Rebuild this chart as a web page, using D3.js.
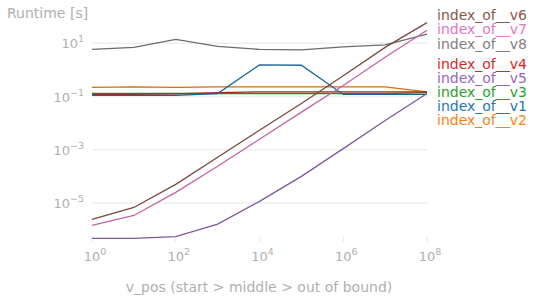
<!DOCTYPE html>
<html><head><meta charset="utf-8">
<script src="https://cdn.jsdelivr.net/npm/d3@7"></script>
<style>body{margin:0;background:#fff}svg{display:block}text{font-family:"DejaVu Sans",sans-serif}</style>
</head><body><svg id="c" width="534" height="304"></svg>
<script>
const xValues = [1e0,1e1,1e2,1e3,1e4,1e5,1e6,1e7,1e8];
const seriesNames = ["index_of__v1","index_of__v2","index_of__v3","index_of__v4","index_of__v5","index_of__v6","index_of__v7","index_of__v8"];
const v1 = [0.11,0.11,0.11,0.13,1.55,1.5,0.12,0.12,0.12];
const v2 = [0.22,0.23,0.22,0.23,0.23,0.23,0.23,0.23,0.15];
const v3 = [0.13,0.13,0.13,0.13,0.13,0.13,0.13,0.13,0.14];
const v4 = [0.12,0.12,0.125,0.14,0.15,0.15,0.15,0.15,0.15];
const v5 = [4.7e-7,4.7e-7,5.5e-7,1.6e-6,1.15e-5,1.0e-4,1.1e-3,1.26e-2,0.13];
const v6 = [2.4e-6,6.8e-6,5.0e-5,5.2e-4,5.4e-3,5.5e-2,0.6,7,60];
const v7 = [1.45e-6,3.4e-6,2.5e-5,2.4e-4,2.5e-3,2.6e-2,0.26,3,31];
const v8 = [5.9,7,14,7.7,5.9,5.7,7.4,8.8,22];
const colors = ["#1f77b4","#ff7f0e","#2ca02c","#d62728","#9467bd","#8c564b","#e377c2","#7f7f7f"];
const legendOrder = ["index_of__v6","index_of__v7","index_of__v8","index_of__v4","index_of__v5","index_of__v3","index_of__v1","index_of__v2"];
const xTicks = [1e0,1e2,1e4,1e6,1e8];
const yTicks = [1e1,1e-1,1e-3,1e-5];
const xTitle = "v_pos (start > middle > out of bound)";
const yTitle = "Runtime [s]";

const allValues = [v1,v2,v3,v4,v5,v6,v7,v8];
const svg = d3.select("#c");
const x = d3.scaleLog().domain([1,1e8]).range([92,427]);
const y = d3.scaleLog().domain([1e-5,1e1]).range([203,43.3]);
const txt = "#b0b0b0";

// gridlines
svg.append("g").selectAll("line").data(yTicks).join("line")
  .attr("x1",x(1)).attr("x2",x(1e8)).attr("y1",d=>y(d)).attr("y2",d=>y(d))
  .attr("stroke","#efefef").attr("stroke-width",1.5);
// x tick marks
svg.append("g").selectAll("line").data(xTicks).join("line")
  .attr("x1",d=>x(d)).attr("x2",d=>x(d)).attr("y1",237).attr("y2",242)
  .attr("stroke","#e6e6e6").attr("stroke-width",1);

function expLabel(sel, d){
  const e = Math.round(Math.log10(d));
  sel.append("tspan").text("10");
  sel.append("tspan").attr("dy",-6).attr("font-size",9.5).text(e<0?"\u2212"+(-e):String(e));
}
svg.append("g").selectAll("text").data(yTicks).join("text")
  .attr("x",84).attr("y",d=>y(d)+5).attr("text-anchor","end")
  .attr("font-size",13).attr("fill",txt).each(function(d){expLabel(d3.select(this),d);});
svg.append("g").selectAll("text").data(xTicks).join("text")
  .attr("x",d=>x(d)+3).attr("y",261).attr("text-anchor","middle")
  .attr("font-size",13).attr("fill",txt).each(function(d){expLabel(d3.select(this),d);});

svg.append("text").attr("x",7).attr("y",18).attr("font-size",14).attr("fill",txt).text(yTitle);
svg.append("text").attr("x",259).attr("y",292).attr("text-anchor","middle").attr("font-size",14).attr("fill",txt).text(xTitle);

const line = d3.line().x((d,i)=>x(xValues[i])).y(d=>y(d));
const drawOrder = [7,1,2,3,0,4,6,5];
svg.append("g").selectAll("path").data(drawOrder).join("path")
  .attr("d",i=>line(allValues[i])).attr("fill","none")
  .attr("stroke",i=>d3.color(colors[i]).darker(0.45)).attr("stroke-width",1.3);

// legend
const legendY = [20,34,48.5,69,83,97,111,125];
svg.append("g").selectAll("text").data(legendOrder).join("text")
  .attr("x",437).attr("y",(d,i)=>legendY[i]).attr("font-size",14)
  .attr("fill",d=>colors[seriesNames.indexOf(d)]).text(d=>d);
</script></body></html>
